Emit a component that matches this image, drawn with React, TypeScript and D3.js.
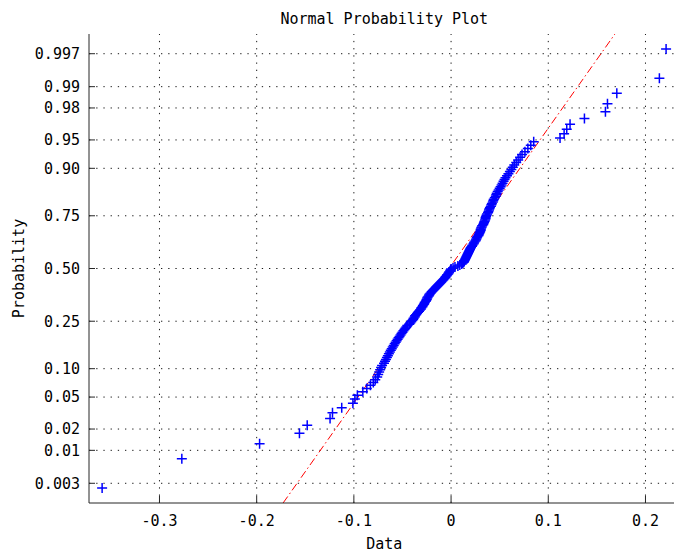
import React from 'react';
import * as d3 from 'd3';

// Sample values (sorted), plotted against normal quantiles of their ranks
const sampleValues = [
  -0.359, -0.277, -0.197, -0.156, -0.148, -0.1245, -0.122, -0.1125, -0.101, -0.099,
  -0.0964, -0.0908, -0.0867, -0.083, -0.080, -0.078, -0.076, -0.075, -0.074, -0.073,
  -0.072, -0.071, -0.069, -0.068, -0.067, -0.066, -0.065, -0.064, -0.063, -0.062,
  -0.061, -0.060, -0.059, -0.058, -0.057, -0.056, -0.055, -0.054, -0.053, -0.052,
  -0.051, -0.050, -0.049, -0.048, -0.047, -0.046, -0.045, -0.043, -0.042, -0.041,
  -0.040, -0.039, -0.0385, -0.0375, -0.037, -0.036, -0.035, -0.034, -0.033, -0.032,
  -0.031, -0.0305, -0.0295, -0.029, -0.028, -0.0275, -0.027, -0.026, -0.0255, -0.025,
  -0.0245, -0.024, -0.023, -0.0225, -0.022, -0.021, -0.020, -0.019, -0.018, -0.017,
  -0.016, -0.015, -0.014, -0.013, -0.012, -0.011, -0.010, -0.009, -0.008, -0.007,
  -0.006, -0.0055, -0.0045, -0.004, -0.003, -0.0025, -0.002, -0.001, -0.0005, 0.000,
  0.002, 0.004, 0.007, 0.009, 0.011, 0.012, 0.013, 0.0135, 0.014, 0.0145,
  0.015, 0.0155, 0.016, 0.0165, 0.017, 0.0175, 0.018, 0.0185, 0.019, 0.0195,
  0.020, 0.0205, 0.0215, 0.022, 0.023, 0.0235, 0.024, 0.025, 0.0255, 0.026,
  0.0265, 0.027, 0.028, 0.0285, 0.029, 0.0295, 0.030, 0.0305, 0.0305, 0.031,
  0.0315, 0.032, 0.033, 0.0335, 0.034, 0.0345, 0.035, 0.0355, 0.0355, 0.036,
  0.0365, 0.037, 0.038, 0.0385, 0.039, 0.0395, 0.040, 0.041, 0.0415, 0.042,
  0.043, 0.0435, 0.044, 0.045, 0.046, 0.0465, 0.047, 0.048, 0.049, 0.050,
  0.051, 0.052, 0.053, 0.054, 0.055, 0.056, 0.0575, 0.059, 0.0605, 0.062,
  0.0635, 0.065, 0.067, 0.069, 0.071, 0.073, 0.076, 0.079, 0.082, 0.085,
  0.1121, 0.1163, 0.119, 0.1224, 0.1372, 0.1588, 0.1609, 0.1705, 0.2143, 0.2212,
];

const probTicks = [0.003, 0.01, 0.02, 0.05, 0.1, 0.25, 0.5, 0.75, 0.9, 0.95, 0.98, 0.99, 0.997];
const probTickLabels = ['0.003', '0.01', '0.02', '0.05', '0.10', '0.25', '0.50', '0.75', '0.90', '0.95', '0.98', '0.99', '0.997'];
const xTicks = [-0.3, -0.2, -0.1, 0, 0.1, 0.2];
const xTickLabels = ['-0.3', '-0.2', '-0.1', '0', '0.1', '0.2'];

const W = 674;
const H = 552;
const left = 89;
const top = 34;
const bottom = 503;
const rightEdge = 679.5;
const FONT = '"DejaVu Sans Mono", "Liberation Mono", monospace';

// Inverse standard normal CDF (Acklam's rational approximation)
function norminv(p: number): number {
  const a = [-3.969683028665376e1, 2.209460984245205e2, -2.759285104469687e2, 1.38357751867269e2, -3.066479806614716e1, 2.506628277459239];
  const b = [-5.447609879822406e1, 1.615858368580409e2, -1.556989798598866e2, 6.680131188771972e1, -1.328068155288572e1];
  const c = [-7.784894002430293e-3, -3.223964580411365e-1, -2.400758277161838, -2.549732539343734, 4.374664141464968, 2.938163982698783];
  const d = [7.784695709041462e-3, 3.224671290700398e-1, 2.445134137142996, 3.754408661907416];
  const pl = 0.02425;
  if (p < pl) {
    const q = Math.sqrt(-2 * Math.log(p));
    return (((((c[0] * q + c[1]) * q + c[2]) * q + c[3]) * q + c[4]) * q + c[5]) / ((((d[0] * q + d[1]) * q + d[2]) * q + d[3]) * q + 1);
  }
  if (p > 1 - pl) {
    const q = Math.sqrt(-2 * Math.log(1 - p));
    return -(((((c[0] * q + c[1]) * q + c[2]) * q + c[3]) * q + c[4]) * q + c[5]) / ((((d[0] * q + d[1]) * q + d[2]) * q + d[3]) * q + 1);
  }
  const q = p - 0.5;
  const r = q * q;
  return ((((((a[0] * r + a[1]) * r + a[2]) * r + a[3]) * r + a[4]) * r + a[5]) * q) / (((((b[0] * r + b[1]) * r + b[2]) * r + b[3]) * r + b[4]) * r + 1);
}

// Percentile with the (i - 0.5)/n convention
function prctile(sorted: number[], p: number): number {
  const n = sorted.length;
  const pos = n * p + 0.5; // 1-based position
  const lo = Math.floor(pos);
  const frac = pos - lo;
  const a = sorted[Math.max(0, Math.min(n - 1, lo - 1))];
  const b = sorted[Math.max(0, Math.min(n - 1, lo))];
  return a + frac * (b - a);
}

export default function App() {
  const sorted = [...sampleValues].sort((a, b) => a - b);
  const n = sorted.length;

  const x = d3.scaleLinear().domain([-0.3725, 0.235]).range([left, rightEdge]);
  const y = d3.scaleLinear().domain([-3, 3]).range([bottom, top]);

  const pts = sorted.map((v, i) => ({ v, z: norminv((i + 0.5) / n) }));

  // Reference line through the first and third quartiles
  const q1 = prctile(sorted, 0.25);
  const q3 = prctile(sorted, 0.75);
  const z1 = norminv(0.25);
  const z3 = norminv(0.75);
  const slope = (q3 - q1) / (z3 - z1);
  const lineZ = [-3, 3];
  const refLine = d3
    .line<number>()
    .x((z) => x(q1 + (z - z1) * slope))
    .y((z) => y(z))(lineZ);

  const gridColor = '#1a1a1a';
  const gridDash = '1.3 5.9';
  const m = 5;

  return (
    <svg width={W} height={H} style={{ position: 'absolute', left: 0, top: 0, background: '#fff' }}>
      <defs>
        <clipPath id="plotArea">
          <rect x={left} y={top} width={rightEdge - left} height={bottom - top} />
        </clipPath>
      </defs>
      <rect x={0} y={0} width={W} height={H} fill="#fff" />

      {/* grid */}
      <g stroke={gridColor} strokeWidth={1} strokeDasharray={gridDash} fill="none">
        {xTicks.map((t) => (
          <line key={'gx' + t} x1={x(t)} x2={x(t)} y1={bottom} y2={top} />
        ))}
        {probTicks.map((p) => (
          <line key={'gy' + p} x1={left} x2={rightEdge} y1={y(norminv(p))} y2={y(norminv(p))} />
        ))}
      </g>

      {/* reference line */}
      <g clipPath="url(#plotArea)">
        <path d={refLine || ''} stroke="#ff0000" strokeWidth={1} fill="none" strokeDasharray="8 3 1.5 3" />
      </g>

      {/* data markers */}
      <g stroke="#0000ff" strokeWidth={1.5} fill="none">
        {pts.map((p, i) => {
          const cx = x(p.v);
          const cy = y(p.z);
          return (
            <path key={i} d={`M${cx - m},${cy}H${cx + m}M${cx},${cy - m}V${cy + m}`} />
          );
        })}
      </g>

      {/* axes */}
      <g stroke="#262626" strokeWidth={1} fill="none">
        <line x1={left} x2={left} y1={top} y2={bottom} />
        <line x1={left} x2={rightEdge} y1={bottom} y2={bottom} />
        {xTicks.map((t) => (
          <line key={'tx' + t} x1={x(t)} x2={x(t)} y1={bottom} y2={bottom - 7} />
        ))}
        {probTicks.map((p) => (
          <line key={'ty' + p} x1={left} x2={left + 6} y1={y(norminv(p))} y2={y(norminv(p))} />
        ))}
      </g>

      {/* tick labels */}
      <g fontFamily={FONT} fontSize={15} fill="#000">
        {xTicks.map((t, i) => (
          <text key={'lx' + t} x={x(t)} y={526} textAnchor="middle">
            {xTickLabels[i]}
          </text>
        ))}
        {probTicks.map((p, i) => (
          <text key={'ly' + p} x={80} y={y(norminv(p))} dy="0.36em" textAnchor="end">
            {probTickLabels[i]}
          </text>
        ))}
      </g>

      {/* titles */}
      <text x={(left + rightEdge) / 2} y={24} textAnchor="middle" fontFamily={FONT} fontSize={15} fill="#000">
        Normal Probability Plot
      </text>
      <text x={(left + rightEdge) / 2} y={549} textAnchor="middle" fontFamily={FONT} fontSize={15} fill="#000">
        Data
      </text>
      <text
        transform={`translate(24,${y(0)}) rotate(-90)`}
        textAnchor="middle"
        fontFamily={FONT}
        fontSize={15}
        fill="#000"
      >
        Probability
      </text>
    </svg>
  );
}
